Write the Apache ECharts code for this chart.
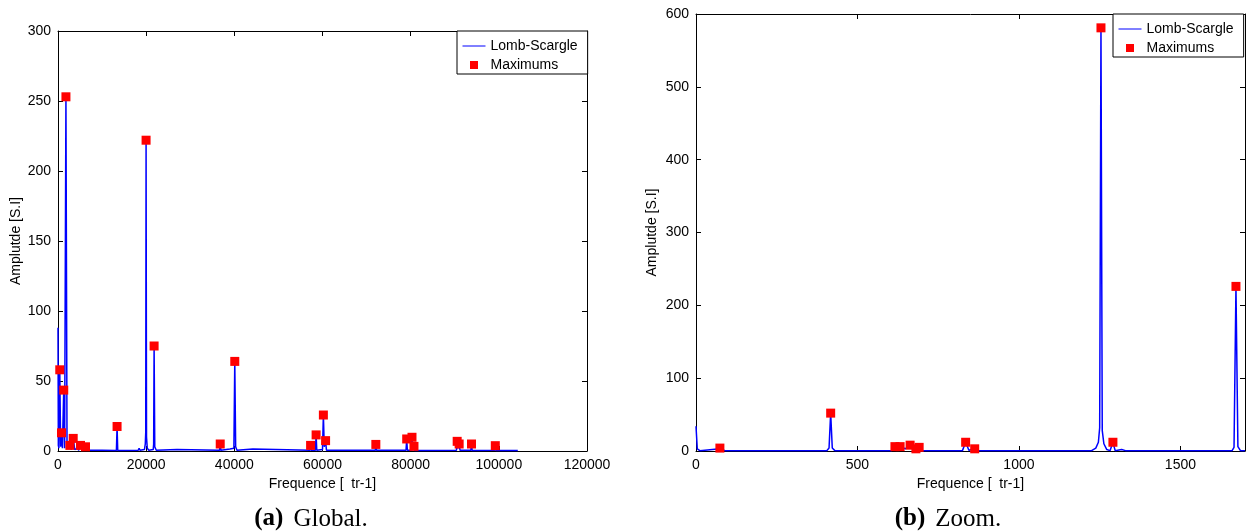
<!DOCTYPE html>
<html>
<head>
<meta charset="utf-8">
<script src="https://cdn.jsdelivr.net/npm/echarts@6/dist/echarts.min.js"></script>
<style>
  html, body { margin: 0; background: #fff; }
  #chart { width: 1252px; height: 531px; }
</style>
</head>
<body>
<div id="chart"></div>
<script>
// (a) Global spectrum: [frequency, amplitude]
const globalSpectrum = [
  [0, 88], [80, 4], [200, 2], [400, 58], [600, 3], [800, 13], [1000, 2], [1300, 43.5], [1500, 2],
  [1800, 253], [2050, 2], [2300, 1], [2700, 4], [3000, 1], [3450, 9], [3800, 1], [4400, 2], [4700, 0.5],
  [5100, 4], [5500, 0.5], [6240, 3], [6600, 0.5], [10000, 0.5], [13250, 0.3], [13400, 17.5], [13550, 0.3],
  [18200, 0.5], [18400, 2], [18600, 0.5], [19600, 1], [19800, 5], [19900, 13], [19980, 222], [20080, 10],
  [20250, 2], [20600, 0.5], [21600, 1], [21700, 5], [21800, 75], [21950, 3], [22300, 0.5], [27000, 1],
  [27200, 0.3], [36650, 0.5], [36800, 5], [36950, 0.5], [39000, 1.5], [39200, 0.3], [39900, 2], [40100, 64],
  [40300, 3], [40600, 0.5], [44200, 1.5], [44500, 0.3], [57150, 0.5], [57300, 4], [57450, 0.5], [58400, 0.5],
  [58550, 11.5], [58700, 0.5], [60000, 1], [60200, 25.7], [60400, 3], [60700, 7.4], [60900, 0.5], [72000, 0.5],
  [72100, 4.7], [72250, 0.5], [78950, 0.5], [79100, 8.6], [79250, 0.5], [80150, 0.5], [80300, 9.8], [80450, 0.5],
  [80750, 3.3], [80900, 0.3], [90400, 0.5], [90550, 6.9], [90750, 2], [91000, 5], [91200, 0.5], [93650, 0.5],
  [93800, 5], [93950, 0.3], [99050, 0.5], [99200, 3.8], [99350, 0.3], [104300, 0.3]
];
const globalMaxima = [
  [400, 58], [800, 13], [1300, 43.5], [1800, 253], [2700, 4], [3450, 9], [5100, 4], [6240, 3],
  [13400, 17.5], [19980, 222], [21800, 75], [36800, 5], [40100, 64], [57300, 4], [58550, 11.5],
  [60200, 25.7], [60700, 7.4], [72100, 4.7], [79100, 8.6], [80300, 9.8], [80750, 3.3], [90550, 6.9],
  [91000, 5], [93800, 5], [99200, 3.8]
];

// (b) Zoom spectrum
const zoomSpectrum = [
  [0, 34], [4, 3], [12, 0.5], [74, 3], [90, 0.5], [405, 0.5], [412, 4], [417, 52], [422, 4], [430, 0.5],
  [605, 0.5], [616, 6], [632, 6], [648, 3], [663, 8], [672, 2], [681, 3], [691, 5], [702, 0.5], [825, 0.5],
  [835, 12], [845, 1], [863, 3], [875, 0.5], [1225, 0.5], [1238, 4], [1246, 12], [1250, 32], [1254, 581],
  [1258, 28], [1263, 10], [1272, 2], [1282, 0.5], [1291, 12], [1298, 0.5], [1318, 2], [1330, 0.5],
  [1660, 0.5], [1666, 5], [1672, 226], [1678, 6], [1686, 0.5], [1700, 0.3]
];
const zoomMaxima = [
  [74, 4], [417, 52], [616, 6], [632, 6], [663, 8], [681, 3], [691, 5], [835, 12], [863, 3],
  [1254, 581], [1291, 12], [1672, 226]
];

// axis ranges [min, max, interval]
const globalX = [0, 120000, 20000];
const globalY = [0, 300, 50];
const zoomX = [0, 1700, 500];
const zoomY = [0, 600, 100];

const yName = 'Amplutde [S.I]';
const xName = 'Frequence [  tr-1]';
const captions = [['(a)', 'Global.'], ['(b)', 'Zoom.']];

const SANS = 'Liberation Sans, Arial, sans-serif';
const SERIF = 'Liberation Serif, serif';
const INK = '#000';

const axis = (range, grid, pos, opts = {}) => ({
  type: 'value',
  gridIndex: grid,
  position: pos,
  min: range[0], max: range[1], interval: range[2],
  axisLine: { show: true, onZero: false, lineStyle: { color: INK, width: 1 } },
  axisTick: { show: true, inside: true, length: 5, lineStyle: { color: INK } },
  splitLine: { show: false },
  axisLabel: opts.label ? {
    show: true, color: INK, fontSize: 14, fontFamily: SANS, margin: 7,
    showMaxLabel: opts.maxLabel !== false,
    formatter: v => String(v)
  } : { show: false },
  ...(opts.name ? {
    name: opts.name, nameLocation: 'middle', nameGap: opts.gap,
    nameTextStyle: { color: INK, fontSize: 14, fontFamily: SANS }
  } : {})
});

const legendBox = (left, top) => ({
  orient: 'vertical', left, top,
  backgroundColor: '#fff', borderColor: INK, borderWidth: 1, borderRadius: 0,
  padding: [8, 10, 2, 5], itemGap: 5, itemWidth: 23, itemHeight: 8,
  symbolKeepAspect: true,
  lineStyle: { width: 1 },
  textStyle: { color: INK, fontSize: 14, fontFamily: SANS },
  selectedMode: false,
  data: [
    { name: 'Lomb-Scargle', itemStyle: { opacity: 0 } },
    { name: 'Maximums', icon: 'path://M0,0h10v10h-10z', itemStyle: { opacity: 1 } }
  ]
});

const lineSeries = (data, idx) => ({
  name: 'Lomb-Scargle', type: 'line', xAxisIndex: idx * 2, yAxisIndex: idx * 2,
  data, symbol: 'none', lineStyle: { color: '#0000ff', width: 1.5 },
  itemStyle: { color: '#0000ff' }, silent: true, z: 3
});
const maxSeries = (data, idx) => ({
  name: 'Maximums', type: 'scatter', xAxisIndex: idx * 2, yAxisIndex: idx * 2,
  data, symbol: 'rect', symbolSize: 9, itemStyle: { color: '#ff0000', opacity: 1 }, silent: true, z: 4
});

const capText = (c, x) => ({
  type: 'text', x, y: 519,
  style: {
    text: `{b|${c[0]}}{n|${c[1]}}`, align: 'center', verticalAlign: 'middle',
    rich: {
      b: { fontFamily: SERIF, fontSize: 25, fontWeight: 'bold', fill: INK, padding: [0, 10, 0, 0] },
      n: { fontFamily: SERIF, fontSize: 25, fill: INK }
    }
  }
});

const chart = echarts.init(document.getElementById('chart'), null, { renderer: 'canvas' });
chart.setOption({
  animation: false,
  backgroundColor: '#fff',
  grid: [
    { left: 58, top: 31, width: 529, height: 420, containLabel: false },
    { left: 696, top: 14, width: 549, height: 437, containLabel: false }
  ],
  xAxis: [
    axis(globalX, 0, 'bottom', { label: true, name: xName, gap: 25 }),
    axis(globalX, 0, 'top'),
    axis(zoomX, 1, 'bottom', { label: true, maxLabel: false, name: xName, gap: 25 }),
    axis(zoomX, 1, 'top')
  ],
  yAxis: [
    axis(globalY, 0, 'left', { label: true, name: yName, gap: 35 }),
    axis(globalY, 0, 'right'),
    axis(zoomY, 1, 'left', { label: true, name: yName, gap: 37 }),
    axis(zoomY, 1, 'right')
  ],
  legend: [legendBox(457, 31), legendBox(1113, 14)],
  series: [
    lineSeries(globalSpectrum, 0), maxSeries(globalMaxima, 0),
    lineSeries(zoomSpectrum, 1), maxSeries(zoomMaxima, 1)
  ],
  graphic: [capText(captions[0], 311), capText(captions[1], 948)]
});
window.addEventListener('resize', () => chart.resize());
</script>
</body>
</html>
